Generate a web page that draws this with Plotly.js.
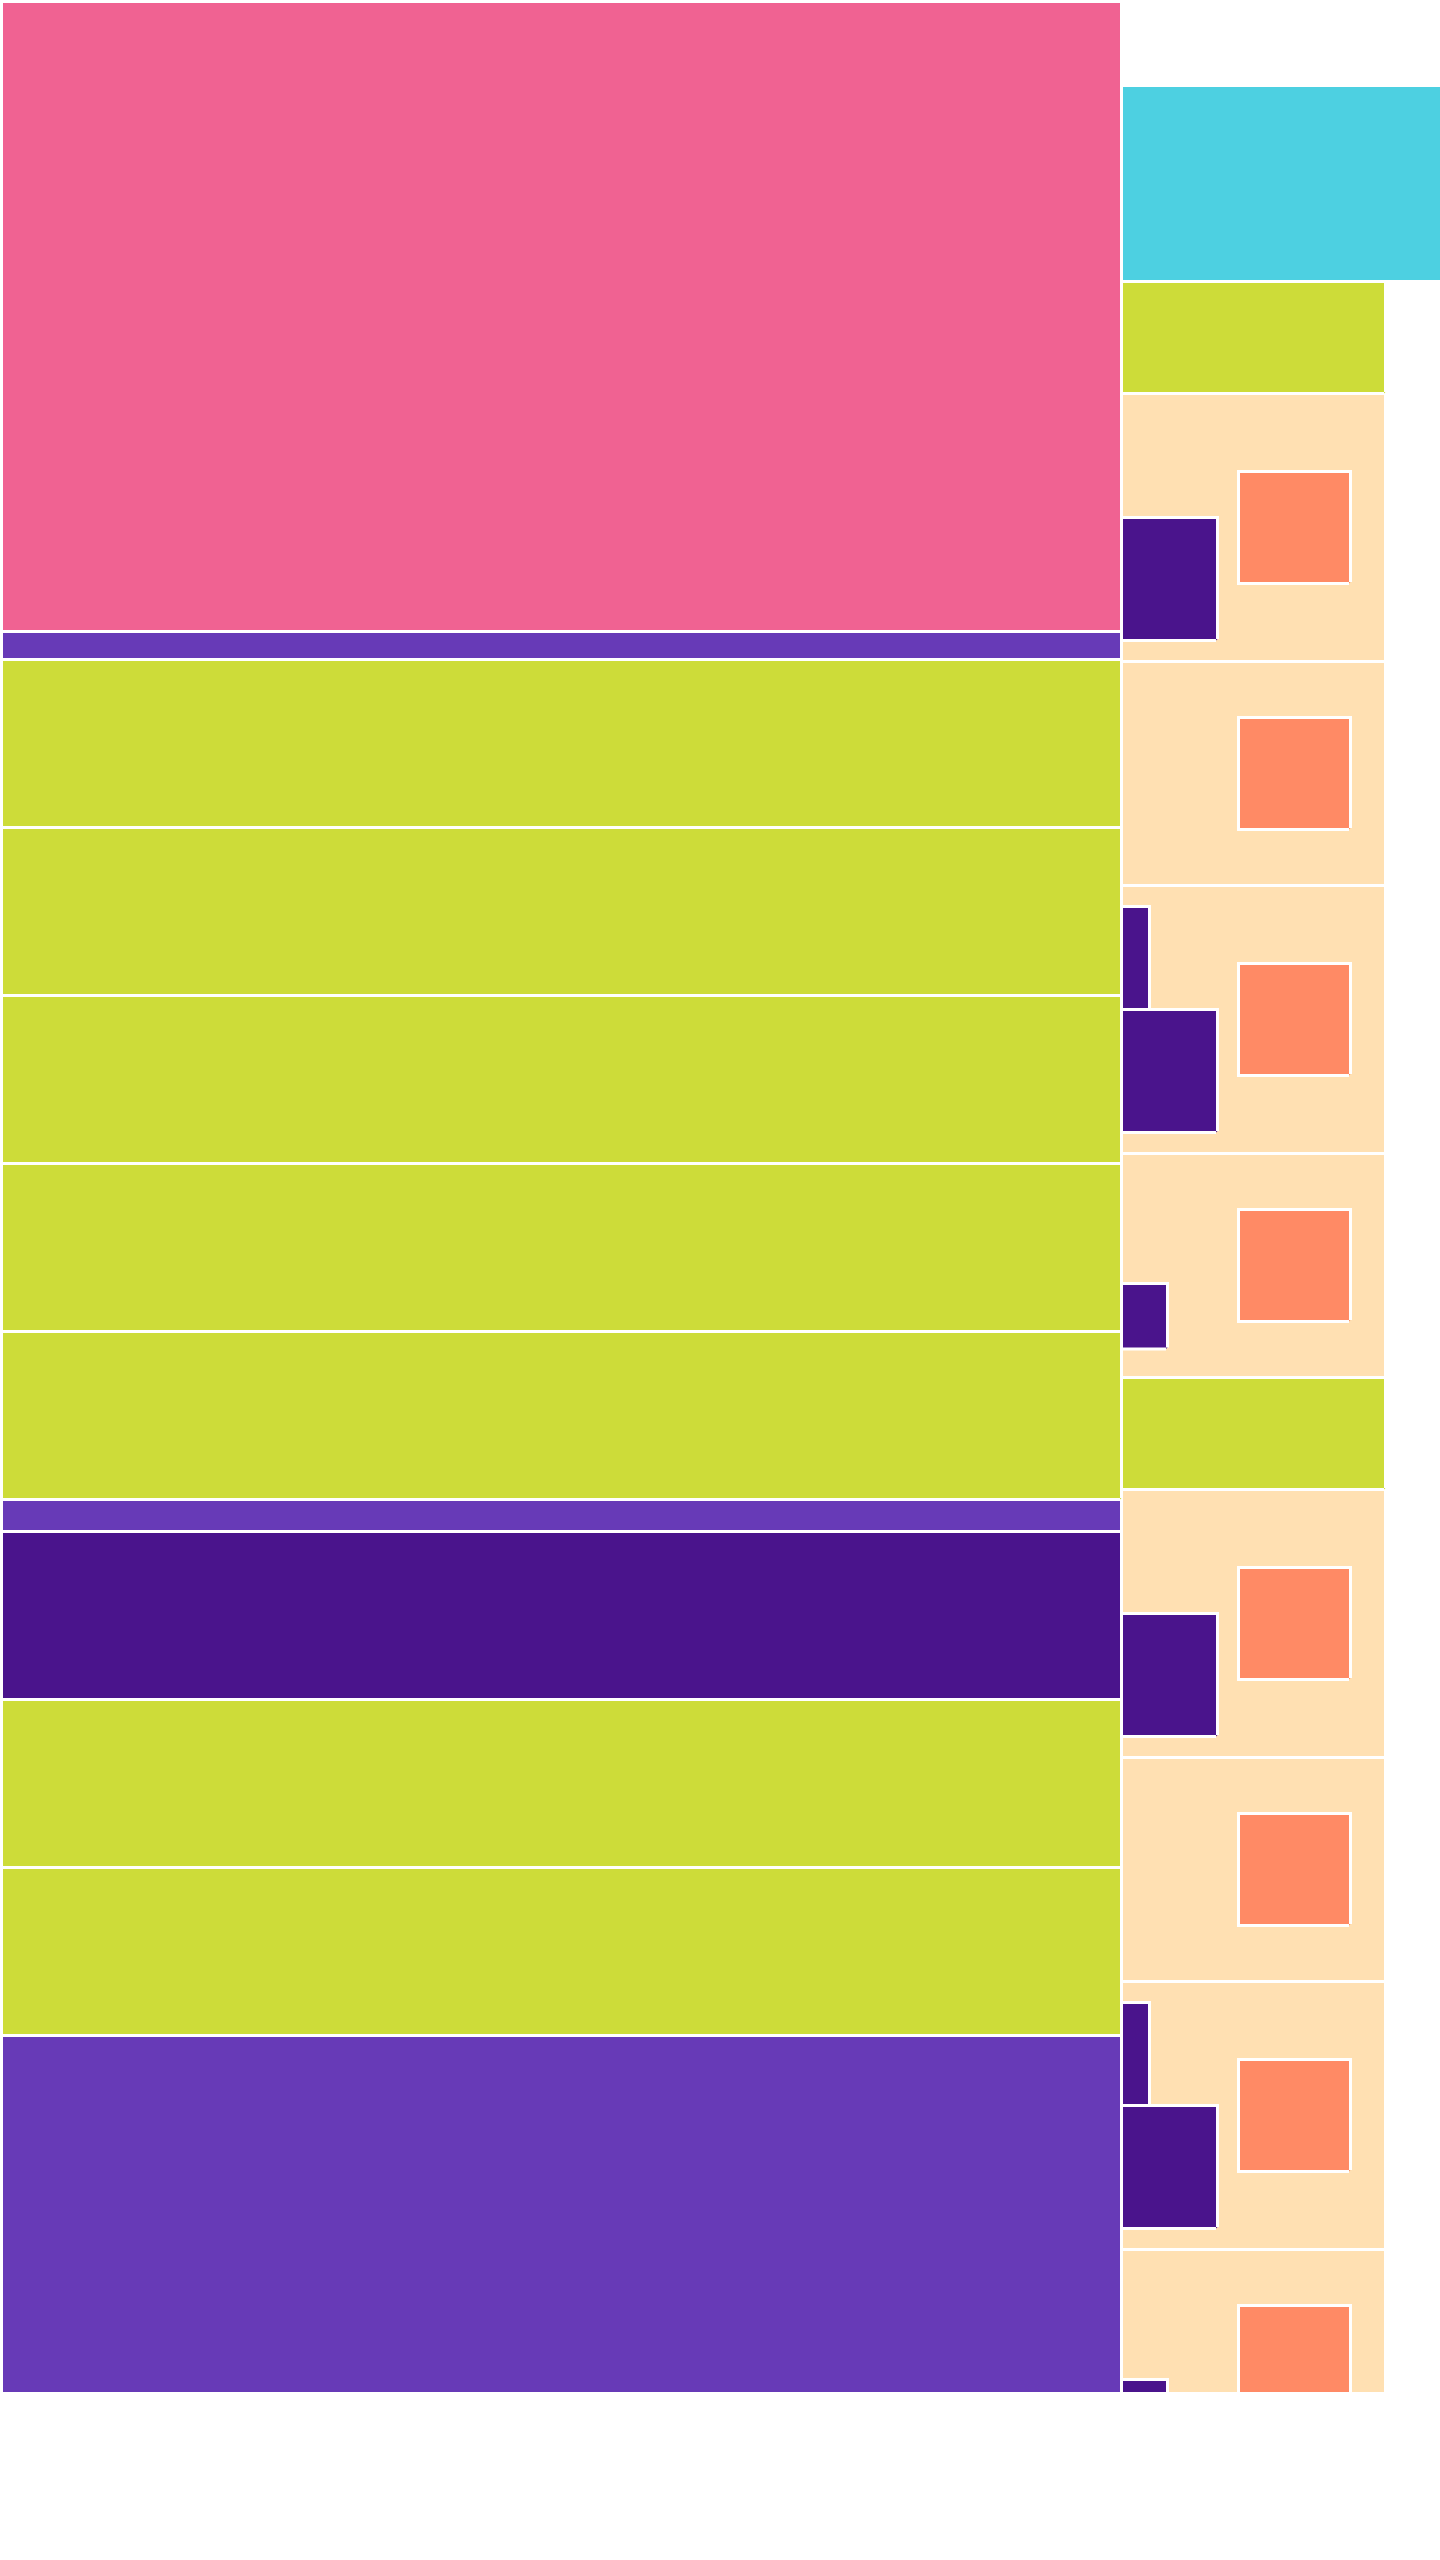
<!DOCTYPE html>
<html>
<head>
<meta charset="utf-8">
<script src="https://cdn.plot.ly/plotly-3.0.1.min.js"></script>
<style>
  html, body { margin: 0; padding: 0; background: #ffffff; }
  #chart { width: 1440px; height: 2560px; }
</style>
</head>
<body>
<div id="chart"></div>
<script>
// ---- data ----
const leftKinds = ['pink','violet','lime','lime','lime','lime','lime','violet','indigo','lime','lime','violet'];
const leftSizes = [630, 28, 168, 168, 168, 168, 168, 32, 168, 168, 168, 420];
const leftSpan = 1120;

const rightKinds = ['blank','cyan','lime','peach','peach','peach','peach','lime','peach','peach','peach','peach'];
const rightSizes = [84, 196, 112, 268, 224, 268, 224, 112, 268, 224, 268, 224];
const rightSpans = [0, 340, 264, 264, 264, 264, 264, 264, 264, 264, 264, 264];

// badge pattern inside each peach block (in order)
const peachBadges = ['A','none','B','C','A','none','B','C'];
const badgeOffsets = { A: [124], B: [21, 124], C: [130], none: [] };
const badgeLengths = { A: [123], B: [103, 123], C: [65.5], none: [] };
const badgeSpans   = { A: [96],  B: [28, 96],   C: [46],   none: [] };
const coralSide = 112;
const coralInset = 117;

const palette = {
  peach: '#FFE0B2', pink: '#F06292', violet: '#673AB7', lime: '#CDDC39',
  indigo: '#4A148C', cyan: '#4DD0E1', coral: '#FF8A65'
};
const drawOrder = ['peach','pink','violet','lime','cyan','indigo','coral'];

// ---- build rectangles ----
const rects = {};
drawOrder.forEach(k => rects[k] = []);

let y = 0;
leftKinds.forEach((k, i) => {
  rects[k].push([0, y, leftSpan, y + leftSizes[i]]);
  y += leftSizes[i];
});

y = 0;
let peachIdx = 0;
rightKinds.forEach((k, i) => {
  const x0 = leftSpan;
  const s = rightSizes[i];
  if (k !== 'blank') rects[k].push([x0, y, x0 + rightSpans[i], y + s]);
  if (k === 'peach') {
    const b = peachBadges[peachIdx++];
    badgeOffsets[b].forEach((o, j) => {
      rects.indigo.push([x0, y + o, x0 + badgeSpans[b][j], y + o + badgeLengths[b][j]]);
    });
    const cy = y + (s - coralSide) / 2;
    rects.coral.push([x0 + coralInset, cy, x0 + coralInset + coralSide, cy + coralSide]);
  }
  y += s;
});

const half = 1.5;
const traces = drawOrder.map(k => {
  const xs = [], ys = [];
  rects[k].forEach(([x0, y0, x1, y1]) => {
    xs.push(x1, x1, x0, x0, x1 - half, null);
    ys.push(y1 - half, y0, y0, y1, y1, null);
  });
  return {
    type: 'scatter', mode: 'lines', x: xs, y: ys,
    fill: 'toself', fillcolor: palette[k],
    line: { color: '#ffffff', width: 3, simplify: false },
    hoverinfo: 'skip', showlegend: false
  };
});

const layout = {
  width: 1440, height: 2560,
  margin: { l: 0, r: 0, t: 0, b: 168, pad: 0 },
  paper_bgcolor: '#ffffff', plot_bgcolor: '#ffffff',
  xaxis: { range: [-1.5, 1438.5], visible: false, fixedrange: true, showgrid: false, zeroline: false },
  yaxis: { range: [2390.5, -1.5], visible: false, fixedrange: true, showgrid: false, zeroline: false },
  showlegend: false, hovermode: false
};

Plotly.newPlot('chart', traces, layout, { displayModeBar: false, staticPlot: true });
</script>
</body>
</html>
